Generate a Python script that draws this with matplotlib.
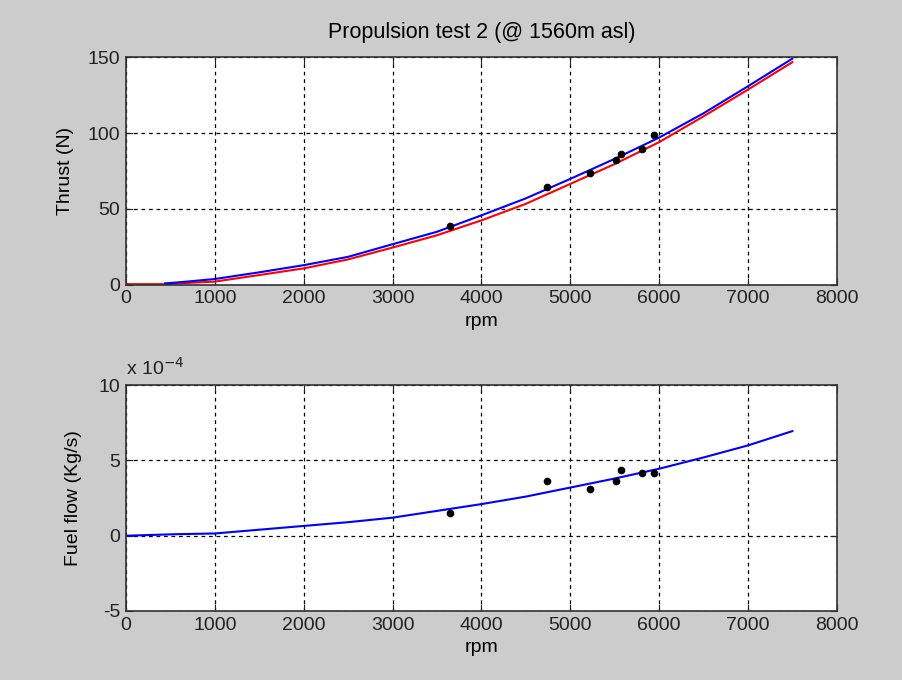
import numpy as np
import matplotlib.pyplot as plt

plt.rcParams['font.family'] = ['Liberation Sans', 'DejaVu Sans']

# measured points
test_rpm = [3650, 4740, 5220, 5510, 5570, 5810, 5940]
test_thrust = [38.8, 64.3, 73.7, 82.4, 86.5, 89.4, 99.0]
test_fuel = [1.5e-4, 3.65e-4, 3.1e-4, 3.65e-4, 4.4e-4, 4.15e-4, 4.15e-4]

# model curves
model_rpm = [0, 440, 650, 1000, 1500, 2000, 2500, 3000, 3500, 4000,
             4500, 5000, 5500, 6000, 6500, 7000, 7500]
thrust_blue = [np.nan, 1.0, 2.0, 3.9, 8.3, 13.0, 18.5, 26.8, 35.0, 45.8,
               57.0, 69.8, 83.0, 97.0, 113.0, 130.8, 149.0]
thrust_red = [0.5, 0.5, 1.2, 2.2, 6.5, 10.9, 16.8, 24.6, 32.7, 42.5,
              53.4, 66.5, 79.6, 94.0, 111.0, 128.6, 146.7]
fuel_rpm = [0, 550, 1000, 1500, 2000, 2500, 3000, 3500, 4000, 4500,
            5000, 5500, 6000, 6500, 7000, 7500]
fuel_blue = [0, 0.1e-4, 0.15e-4, 0.4e-4, 0.65e-4, 0.9e-4, 1.2e-4, 1.65e-4,
             2.1e-4, 2.6e-4, 3.2e-4, 3.8e-4, 4.45e-4, 5.2e-4, 6.0e-4, 6.95e-4]

xticks = [0, 1000, 2000, 3000, 4000, 5000, 6000, 7000, 8000]

fig = plt.figure(figsize=(9.02, 6.8), dpi=100, facecolor='#cccccc')
ax1 = fig.add_axes([0.1397, 0.581, 0.788, 0.335])
ax2 = fig.add_axes([0.1397, 0.1015, 0.788, 0.332])


def style(ax):
    ax.set_facecolor('white')
    ax.set_xlim(0, 8000)
    ax.set_xticks(xticks)
    ax.grid(True, color='black', linestyle=(0, (3, 3)), linewidth=0.9)
    ax.tick_params(direction='in', length=5, top=True, right=True,
                   labelsize=14, colors='#222222', pad=4)
    for s in ax.spines.values():
        s.set_color('#333333')
        s.set_linewidth(1.2)
    ax.set_xlabel('rpm', fontsize=14, labelpad=4)


ax1.plot(model_rpm, thrust_red, color='red', linewidth=1.5)
ax1.plot(model_rpm, thrust_blue, color='blue', linewidth=1.5)
ax1.plot(test_rpm, test_thrust, 'o', color='black', markersize=4.5)
style(ax1)
ax1.set_ylim(0, 150)
ax1.set_yticks([0, 50, 100, 150])
ax1.set_ylabel('Thrust (N)', fontsize=14, labelpad=10)
ax1.set_title('Propulsion test 2 (@ 1560m asl)', fontsize=15.5, pad=14)

ax2.plot(fuel_rpm, fuel_blue, color='blue', linewidth=1.5)
ax2.plot(test_rpm, test_fuel, 'o', color='black', markersize=4.5)
style(ax2)
ax2.set_ylim(-5e-4, 10e-4)
ax2.set_yticks([-5e-4, 0, 5e-4, 10e-4])
ax2.set_yticklabels(['-5', '0', '5', '10'])
ax2.set_ylabel('Fuel flow (Kg/s)', fontsize=14, labelpad=12)
ax2.text(0.0, 1.03, 'x 10$^{-4}$', transform=ax2.transAxes, fontsize=14,
         ha='left', va='bottom', color='#222222')

fig.savefig('out.png', dpi=100, facecolor=fig.get_facecolor())
